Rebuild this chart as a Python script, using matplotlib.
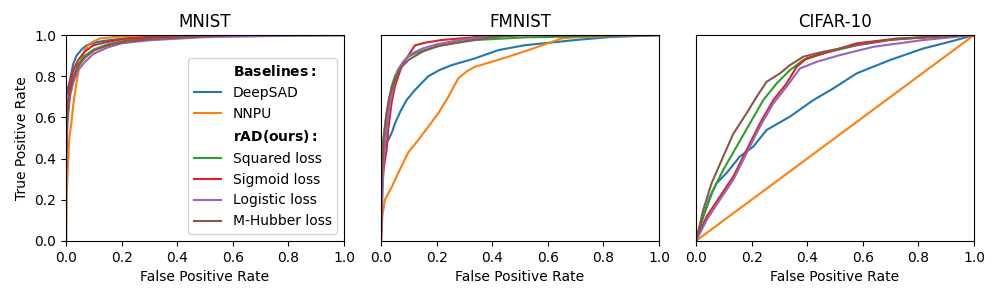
import matplotlib
matplotlib.use("Agg")
import matplotlib.pyplot as plt

# ROC curves, (fpr, tpr) per method and dataset
LABELS = ["DeepSAD", "NNPU", "Squared loss", "Sigmoid loss", "Logistic loss", "M-Hubber loss"]
COLORS = ["tab:blue", "tab:orange", "tab:green", "tab:red", "tab:purple", "tab:brown"]
TITLES = ["MNIST", "FMNIST", "CIFAR-10"]

# --- MNIST ---
mnist_deepsad_x = [0, 0, 0.005, 0.014, 0.026, 0.038, 0.056, 0.074, 0.11, 0.158, 0.266, 0.4, 0.6, 1.0]
mnist_deepsad_y = [0, 0.70, 0.73, 0.78, 0.86, 0.90, 0.93, 0.95, 0.966, 0.976, 0.99, 0.995, 1.0, 1.0]
mnist_nnpu_x = [0, 0.002, 0.005, 0.008, 0.012, 0.02, 0.026, 0.038, 0.05, 0.068, 0.086, 0.122, 0.17, 0.3, 1.0]
mnist_nnpu_y = [0, 0.22, 0.30, 0.40, 0.50, 0.58, 0.66, 0.77, 0.86, 0.93, 0.96, 0.984, 0.99, 1.0, 1.0]
mnist_sq_x = [0, 0, 0.005, 0.014, 0.026, 0.044, 0.068, 0.1, 0.15, 0.22, 0.35, 0.6, 1.0]
mnist_sq_y = [0, 0.40, 0.63, 0.74, 0.80, 0.86, 0.90, 0.93, 0.955, 0.975, 0.99, 1.0, 1.0]
mnist_sig_x = [0, 0, 0.005, 0.014, 0.026, 0.044, 0.068, 0.098, 0.146, 0.218, 0.35, 0.6, 1.0]
mnist_sig_y = [0, 0.45, 0.65, 0.77, 0.83, 0.88, 0.92, 0.95, 0.966, 0.984, 0.99, 1.0, 1.0]
mnist_log_x = [0, 0, 0.005, 0.014, 0.026, 0.044, 0.068, 0.1, 0.15, 0.2, 0.3, 0.5, 0.95]
mnist_log_y = [0, 0.30, 0.58, 0.70, 0.77, 0.83, 0.87, 0.91, 0.94, 0.96, 0.975, 0.99, 1.0]
mnist_hub_x = [0, 0, 0.005, 0.014, 0.026, 0.044, 0.068, 0.1, 0.15, 0.22, 0.35, 0.6, 1.0]
mnist_hub_y = [0, 0.35, 0.60, 0.72, 0.79, 0.85, 0.89, 0.925, 0.95, 0.97, 0.985, 1.0, 1.0]

# --- FMNIST ---
fm_deepsad_x = [0, 0.003, 0.008, 0.014, 0.026, 0.04, 0.05, 0.07, 0.092, 0.122, 0.17, 0.21, 0.254, 0.338,
                0.422, 0.518, 0.6, 0.698, 0.82, 1.0]
fm_deepsad_y = [0, 0.30, 0.40, 0.458, 0.49, 0.53, 0.57, 0.63, 0.684, 0.733, 0.80, 0.83, 0.854, 0.887,
                0.927, 0.951, 0.962, 0.976, 0.99, 1.0]
fm_nnpu_x = [0, 0.005, 0.014, 0.038, 0.062, 0.098, 0.134, 0.17, 0.206, 0.242, 0.278, 0.31, 0.338, 0.398,
             0.458, 0.53, 0.60, 0.65, 0.70, 1.0]
fm_nnpu_y = [0, 0.12, 0.20, 0.26, 0.33, 0.43, 0.49, 0.555, 0.62, 0.70, 0.79, 0.825, 0.846, 0.87,
             0.895, 0.927, 0.96, 0.984, 0.99, 1.0]
fm_sq_x = [0, 0.002, 0.008, 0.02, 0.038, 0.05, 0.062, 0.08, 0.098, 0.128, 0.158, 0.218, 0.338, 0.518, 1.0]
fm_sq_y = [0, 0.36, 0.49, 0.62, 0.75, 0.80, 0.83, 0.87, 0.895, 0.915, 0.927, 0.951, 0.976, 0.989, 1.0]
fm_sig_x = [0, 0.004, 0.008, 0.014, 0.02, 0.026, 0.038, 0.05, 0.062, 0.074, 0.086, 0.098, 0.122, 0.158,
            0.218, 0.338, 0.46, 1.0]
fm_sig_y = [0, 0.25, 0.33, 0.39, 0.44, 0.54, 0.67, 0.75, 0.80, 0.846, 0.875, 0.90, 0.95, 0.963,
            0.976, 0.99, 1.0, 1.0]
fm_log_x = [0, 0.005, 0.01, 0.02, 0.03, 0.04, 0.05, 0.06, 0.08, 0.1, 0.125, 0.15, 0.2, 0.3, 0.4, 0.5, 1.0]
fm_log_y = [0, 0.20, 0.40, 0.55, 0.65, 0.72, 0.78, 0.83, 0.87, 0.90, 0.92, 0.935, 0.955, 0.98, 0.995, 1.0, 1.0]
fm_hub_x = [0, 0.003, 0.01, 0.02, 0.03, 0.04, 0.05, 0.07, 0.1, 0.125, 0.15, 0.2, 0.3, 0.4, 0.5, 1.0]
fm_hub_y = [0, 0.30, 0.50, 0.62, 0.70, 0.745, 0.78, 0.84, 0.88, 0.90, 0.92, 0.945, 0.97, 0.99, 1.0, 1.0]

# --- CIFAR-10 ---
cf_deepsad_x = [0, 0.026, 0.05, 0.074, 0.11, 0.158, 0.206, 0.254, 0.338, 0.422, 0.494, 0.578, 0.698, 0.818, 0.914, 1.0]
cf_deepsad_y = [0, 0.118, 0.215, 0.28, 0.33, 0.41, 0.458, 0.539, 0.604, 0.684, 0.741, 0.814, 0.879, 0.935, 0.968, 1.0]
cf_nnpu_x = [0, 1.0]
cf_nnpu_y = [0, 1.0]
cf_sq_x = [0, 0.026, 0.062, 0.098, 0.146, 0.194, 0.242, 0.29, 0.338, 0.386, 0.458, 0.578, 0.722, 1.0]
cf_sq_y = [0, 0.118, 0.248, 0.345, 0.458, 0.571, 0.684, 0.765, 0.83, 0.879, 0.911, 0.951, 0.984, 1.0]
cf_sig_x = [0, 0.038, 0.086, 0.134, 0.182, 0.23, 0.278, 0.326, 0.362, 0.398, 0.458, 0.578, 0.698, 1.0]
cf_sig_y = [0, 0.118, 0.215, 0.312, 0.442, 0.571, 0.684, 0.765, 0.846, 0.887, 0.911, 0.96, 0.979, 1.0]
cf_log_x = [0, 0.038, 0.086, 0.134, 0.182, 0.23, 0.278, 0.326, 0.374, 0.434, 0.518, 0.638, 0.818, 1.0]
cf_log_y = [0, 0.10, 0.20, 0.296, 0.426, 0.555, 0.668, 0.749, 0.838, 0.87, 0.903, 0.943, 0.976, 1.0]
cf_hub_x = [0, 0.026, 0.056, 0.098, 0.134, 0.182, 0.218, 0.254, 0.302, 0.338, 0.386, 0.458, 0.578, 0.698, 0.818, 1.0]
cf_hub_y = [0, 0.15, 0.28, 0.41, 0.52, 0.62, 0.70, 0.773, 0.814, 0.854, 0.895, 0.919, 0.951, 0.976, 0.99, 1.0]

curves = [
    [(mnist_deepsad_x, mnist_deepsad_y), (mnist_nnpu_x, mnist_nnpu_y), (mnist_sq_x, mnist_sq_y),
     (mnist_sig_x, mnist_sig_y), (mnist_log_x, mnist_log_y), (mnist_hub_x, mnist_hub_y)],
    [(fm_deepsad_x, fm_deepsad_y), (fm_nnpu_x, fm_nnpu_y), (fm_sq_x, fm_sq_y),
     (fm_sig_x, fm_sig_y), (fm_log_x, fm_log_y), (fm_hub_x, fm_hub_y)],
    [(cf_deepsad_x, cf_deepsad_y), (cf_nnpu_x, cf_nnpu_y), (cf_sq_x, cf_sq_y),
     (cf_sig_x, cf_sig_y), (cf_log_x, cf_log_y), (cf_hub_x, cf_hub_y)],
]

fig, axes = plt.subplots(1, 3, figsize=(10, 3), dpi=100)
fig.subplots_adjust(left=0.066, right=0.974, top=0.883, bottom=0.197, wspace=0.133)

for ax, title, data in zip(axes, TITLES, curves):
    for (x, y), label, color in zip(data, LABELS, COLORS):
        ax.plot(x, y, color=color, label=label, lw=1.5)
    ax.set_xlim(0, 1)
    ax.set_ylim(0, 1)
    ax.set_title(title)
    ax.set_xlabel("False Positive Rate")

axes[0].set_ylabel("True Positive Rate")
for ax in axes[1:]:
    ax.set_yticks([])

# legend with bold section headers
ax = axes[0]
lines = ax.get_lines()
h1, = ax.plot([], [], color="none", label=r"$\bf{Baselines:}$")
h2, = ax.plot([], [], color="none", label=r"$\bf{rAD(ours):}$")
handles = [h1, lines[0], lines[1], h2] + list(lines[2:6])
ax.legend(handles=handles, labels=[h.get_label() for h in handles], loc="lower right")

fig.savefig("out.png")
